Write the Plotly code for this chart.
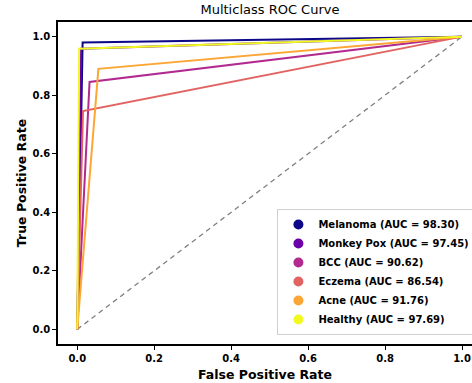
import plotly.graph_objects as go

classes = ["Melanoma", "Monkey Pox", "BCC", "Eczema", "Acne", "Healthy"]
auc = ["98.30", "97.45", "90.62", "86.54", "91.76", "97.69"]
fpr = [[0.0, 0.014, 1.0], [0.0, 0.010, 1.0], [0.0, 0.032, 1.0],
       [0.0, 0.015, 1.0], [0.0, 0.055, 1.0], [0.0, 0.005, 1.0]]
tpr = [[0.0, 0.980, 1.0], [0.0, 0.959, 1.0], [0.0, 0.845, 1.0],
       [0.0, 0.746, 1.0], [0.0, 0.890, 1.0], [0.0, 0.959, 1.0]]
colors = ["#0d0887", "#6a00a8", "#b12a90", "#e16462", "#fca636", "#f0f921"]
diag = [0.0, 1.0]
xticks = [0.0, 0.2, 0.4, 0.6, 0.8, 1.0]
yticks = [0.0, 0.2, 0.4, 0.6, 0.8, 1.0]

FONT = "DejaVu Sans"
fig = go.Figure()
fig.add_trace(go.Scatter(x=diag, y=diag, mode="lines", showlegend=False,
                         line=dict(color="gray", width=1.3, dash="5px,4px"),
                         hoverinfo="skip"))
for name, a, fx, ty, c in zip(classes, auc, fpr, tpr, colors):
    fig.add_trace(go.Scatter(x=fx, y=ty, mode="lines", showlegend=False,
                             line=dict(color=c, width=2)))
for name, a, c in zip(classes, auc, colors):
    fig.add_trace(go.Scatter(x=[None], y=[None], mode="markers",
                             name=f"{name} (AUC = {a})",
                             marker=dict(color=c, size=10)))

axis_common = dict(showgrid=False, zeroline=False, showline=True,
                   linecolor="black", linewidth=1.5, ticks="outside",
                   ticklen=4, tickcolor="black", automargin=False,
                   tickfont=dict(family=FONT, size=10, color="black", weight="bold"))
fig.update_layout(
    width=472, height=383,
    margin=dict(l=58, r=0, t=22, b=39, autoexpand=False),
    plot_bgcolor="white", paper_bgcolor="white",
    title=dict(text="Multiclass ROC Curve", x=0.512, xanchor="center",
               xref="paper", y=1, yref="container", yanchor="top", pad=dict(t=5),
               font=dict(family=FONT, size=13, color="black")),
    xaxis=dict(range=[-0.05, 1.026], tickvals=xticks,
               ticktext=[f"{v:.1f}" for v in xticks], mirror=True,
               title=dict(text="False Positive Rate", standoff=7,
                          font=dict(family=FONT, size=12.5, color="black", weight="bold")),
               **axis_common),
    yaxis=dict(range=[-0.05, 1.05], tickvals=yticks,
               ticktext=[f"{v:.1f}" for v in yticks],
               title=dict(text="True Positive Rate", standoff=3,
                          font=dict(family=FONT, size=12.5, color="black", weight="bold")),
               **axis_common),
    legend=dict(x=0.53, y=0.028, xanchor="left", yanchor="bottom",
                bgcolor="white", bordercolor="#d0d0d0", borderwidth=1,
                font=dict(family=FONT, size=10, color="black", weight="bold"),
                itemwidth=30, tracegroupgap=0),
)
fig.write_html("out.html")
